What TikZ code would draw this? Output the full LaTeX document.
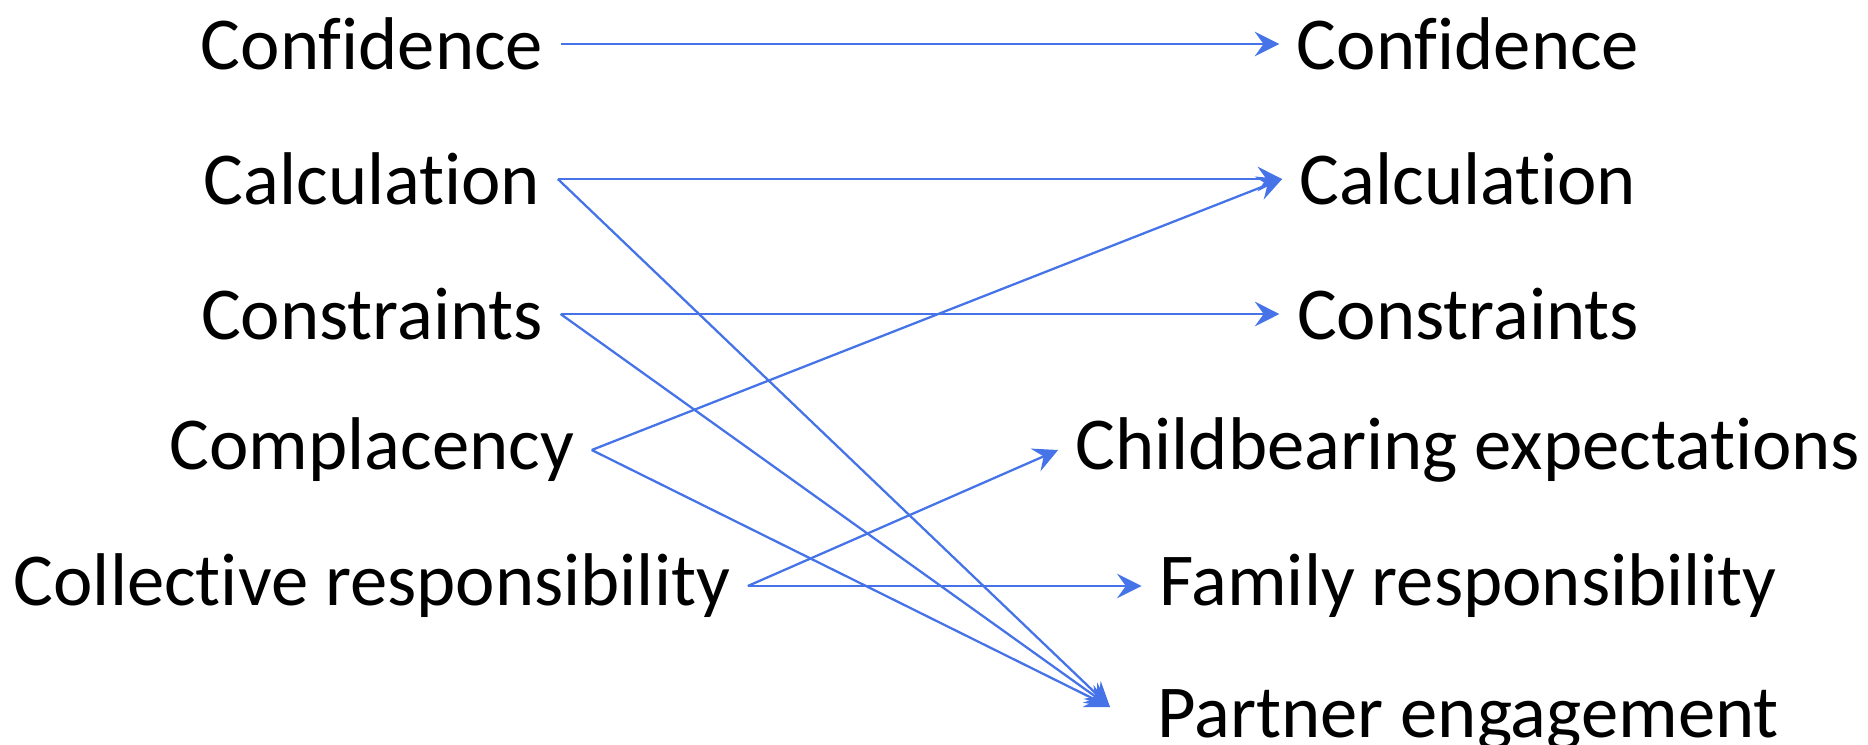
\documentclass[tikz,border=0pt]{standalone}
\usepackage{fontspec}
\setmainfont{Carlito}[Ligatures={NoCommon,NoRequired,NoContextual},Contextuals={NoAlternate},RawFeature={-liga;-clig;-calt;-dlig}]
\usetikzlibrary{arrows.meta}
\definecolor{arrblue}{RGB}{70,116,232}
\begin{document}
\begin{tikzpicture}[x=0.02cm,y=-0.02cm,
			>={Stealth[length=14pt,width=14pt,inset=5pt]},
			every node/.style={font=\fontsize{42.5}{50}\selectfont,inner sep=0pt,outer sep=10pt},
			link/.style={->,arrblue,line width=1.3pt}]
			\useasboundingbox (0,0) rectangle (1868,744);
			% left column
			\node (lconf) at (372,44) {Confidence};
			\node (lcalc) at (372,179) {Calculation};
			\node (lcons) at (372,314) {Constraints};
			\node (lcomp) at (372,450) {Complacency};
			\node (lcoll) at (372,586) {Collective responsibility};
			% right column
			\node (rconf) at (1468,44) {Confidence};
			\node (rcalc) at (1468,179) {Calculation};
			\node (rcons) at (1468,314) {Constraints};
			\node (rchild) at (1468,450) {Childbearing expectations};
			\node (rfam) at (1468,586) {Family responsibility};
			\node (rpart) at (1468,720) {Partner engagement};
			\coordinate (ptip) at (1110,707);
			\draw[link] (lconf.east) to (rconf.west);
			\draw[link] (lcalc.east) to (rcalc.west);
			\draw[link] (lcalc.east) to (ptip);
			\draw[link] (lcons.east) to (rcons.west);
			\draw[link] (lcons.east) to (ptip);
			\draw[link] (lcomp.east) to (rcalc.west);
			\draw[link] (lcomp.east) to (ptip);
			\draw[link] (lcoll.east) to (rchild.west);
			\draw[link] (lcoll.east) to (rfam.west);
		\end{tikzpicture}
\end{document}
